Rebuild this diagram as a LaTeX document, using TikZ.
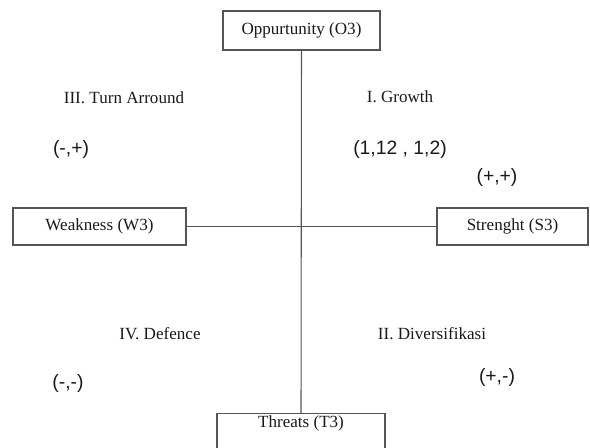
\documentclass[tikz,border=0pt]{standalone}
\usepackage{fontspec}
\setmainfont{Liberation Serif}
\newfontfamily\arialfont{Liberation Sans}
\definecolor{lineg}{RGB}{85,85,85}
\definecolor{txt}{RGB}{25,25,25}
\begin{document}
\begin{tikzpicture}[x=0.75pt,y=-0.75pt,
  boxnode/.style={draw=lineg,line width=0.85pt,fill=white,inner sep=0pt,font=\fontsize{12.8}{14}\selectfont,text=txt},
  lab/.style={font=\fontsize{12.8}{14}\selectfont,text=txt,inner sep=0pt},
  num/.style={font=\arialfont\fontsize{14.5}{16}\selectfont,text=txt,inner sep=0pt},
  axis/.style={draw=lineg,line width=0.8pt}]
\useasboundingbox (0,0) rectangle (590,448);
\node[boxnode,minimum width=157*0.75pt,minimum height=39*0.75pt] (O) at (301.5,30.5) {Oppurtunity (O3)};
\node[boxnode,minimum width=173*0.75pt,minimum height=37*0.75pt] (W) at (99.5,226.5) {Weakness (W3)};
\node[boxnode,minimum width=151*0.75pt,minimum height=37*0.75pt] (S) at (512.5,226.5) {Strenght (S3)};
\node[boxnode,minimum width=168*0.75pt,text height=9pt,text depth=22pt,inner ysep=1.5pt,anchor=north] (T) at (301,413) {Threats (T3)};
\draw[axis] (O.south) -- (T.north);
\draw[axis] (W.east) -- (S.west);
\node[lab] (t3) at (124,98) {III. Turn Arround};
\node[num] (q3) at (71,150) {(-,+)};
\node[lab] (t1) at (400,97) {I. Growth};
\node[num] (pt) at (400,150) {(1,12 , 1,2)};
\node[num] (q1) at (497,178) {(+,+)};
\node[lab] (t4) at (160,334) {IV. Defence};
\node[num] (q4) at (68,384) {(-,-)};
\node[lab] (t2) at (432,334) {II. Diversifikasi};
\node[num] (q2) at (497,378) {(+,-)};
\end{tikzpicture}
\end{document}
